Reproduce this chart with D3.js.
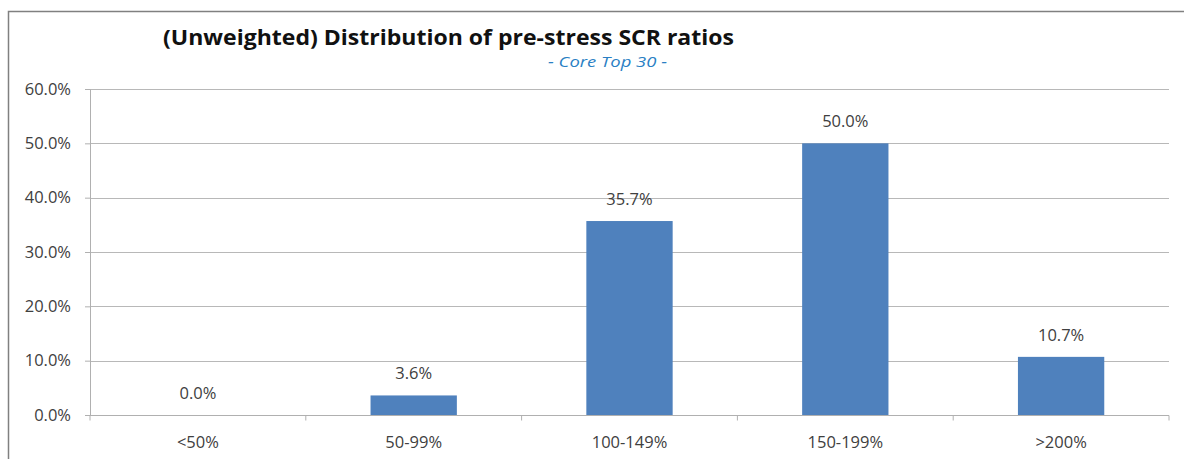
<!DOCTYPE html>
<meta charset="utf-8">
<style>
body { margin: 0; background: white; }
text { font-family: "Open Sans", Lato, sans-serif; fill: #404040; }
.axis path, .axis line { stroke: #b0b0b0; }
.axis text { font-size: 16.5px; fill: #404040; }
</style>
<body>
<script src="https://d3js.org/d3.v7.min.js"></script>
<script>
var width = 1184,
    height = 459;

var categories = ["<50%", "50-99%", "100-149%", "150-199%", ">200%"];
var values = [0.0, 3.6, 35.7, 50.0, 10.7];
var yTicks = [0, 10, 20, 30, 40, 50, 60];

var margin = {top: 89, right: 14, bottom: 44, left: 90};

var svg = d3.select("body").append("svg")
    .attr("width", width)
    .attr("height", height);

// chart border
svg.append("rect")
    .attr("x", 8.5).attr("y", 11.5)
    .attr("width", width + 10).attr("height", height)
    .attr("fill", "none")
    .attr("stroke", "#808080")
    .attr("stroke-width", 1.5);

var x = d3.scaleBand()
    .domain(categories)
    .range([margin.left, width - margin.right - 1])
    .paddingInner(0.6)
    .paddingOuter(0.3);

var y = d3.scaleLinear()
    .domain([0, 60])
    .range([height - margin.bottom, margin.top]);

// gridlines
svg.append("g")
    .selectAll("line")
    .data(yTicks)
    .enter().append("line")
    .attr("x1", margin.left)
    .attr("x2", width - margin.right - 1)
    .attr("y1", d => Math.round(y(d)) + 0.5)
    .attr("y2", d => Math.round(y(d)) + 0.5)
    .attr("stroke", "#b8b8b8")
    .attr("stroke-width", 1.2);

// y axis
var yAxis = svg.append("g")
    .attr("class", "axis")
    .attr("transform", "translate(" + margin.left + ",0)")
    .call(d3.axisLeft(y).tickValues(yTicks).tickSize(5).tickPadding(14)
        .tickFormat(d => d.toFixed(1) + "%"));
yAxis.select(".domain").attr("stroke", "#b0b0b0");

// bars
svg.append("g")
    .selectAll("rect")
    .data(values)
    .enter().append("rect")
    .attr("x", (d, i) => x(categories[i]))
    .attr("width", x.bandwidth())
    .attr("y", d => y(d))
    .attr("height", d => y(0) - y(d))
    .attr("fill", "#4f81bd");

// x axis with ticks at category boundaries
var xAxisG = svg.append("g")
    .attr("class", "axis")
    .attr("transform", "translate(0," + (Math.round(y(0)) + 0.5) + ")");
xAxisG.append("line")
    .attr("x1", margin.left).attr("x2", width - margin.right - 1)
    .attr("stroke", "#b0b0b0").attr("stroke-width", 1.2);
var step = x.step();
xAxisG.selectAll(".tk")
    .data(d3.range(categories.length + 1))
    .enter().append("line")
    .attr("class", "tk")
    .attr("x1", i => margin.left + i * step)
    .attr("x2", i => margin.left + i * step)
    .attr("y1", 0).attr("y2", 5)
    .attr("stroke", "#b0b0b0");
xAxisG.selectAll(".lbl")
    .data(categories)
    .enter().append("text")
    .attr("class", "lbl")
    .attr("x", d => x(d) + x.bandwidth() / 2)
    .attr("y", 32)
    .attr("text-anchor", "middle")
    .style("font-size", "16.5px")
    .text(d => d);

// data labels
svg.append("g")
    .selectAll("text")
    .data(values)
    .enter().append("text")
    .attr("x", (d, i) => x(categories[i]) + x.bandwidth() / 2)
    .attr("y", d => y(d) - 16)
    .attr("text-anchor", "middle")
    .style("font-size", "16.5px")
    .text(d => d.toFixed(1) + "%");

// titles
svg.append("text")
    .attr("x", 163)
    .attr("y", 45)
    .attr("textLength", 571)
    .attr("lengthAdjust", "spacingAndGlyphs")
    .style("font-size", "21px")
    .style("font-weight", "bold")
    .style("fill", "#111")
    .text("(Unweighted) Distribution of pre-stress SCR ratios");

svg.append("text")
    .attr("x", 548)
    .attr("y", 67)
    .attr("textLength", 119)
    .attr("lengthAdjust", "spacingAndGlyphs")
    .style("font-size", "15px")
    .style("font-style", "italic")
    .style("fill", "#2a7fc4")
    .text("- Core Top 30 -");
</script>
</body>
